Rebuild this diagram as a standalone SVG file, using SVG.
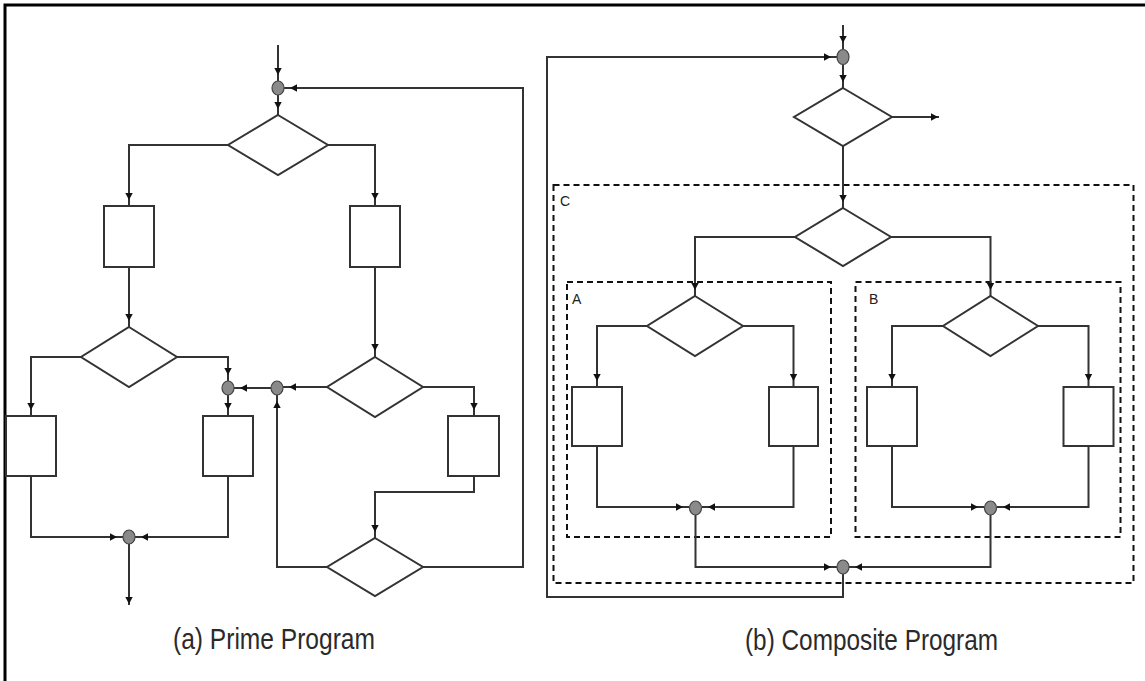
<svg xmlns="http://www.w3.org/2000/svg" width="1145" height="681" viewBox="0 0 1145 681">
  <style>
    .ln{fill:none;stroke:#333;stroke-width:2;stroke-linejoin:miter}
    .dia{fill:none;stroke:#333;stroke-width:2}
    .box{fill:none;stroke:#333;stroke-width:2}
    .jn{fill:#8a8a8a;stroke:#444;stroke-width:1.2}
    .grp{fill:none;stroke:#111;stroke-width:2;stroke-dasharray:6 4}
    .glab{font-family:"Liberation Sans",Arial,sans-serif;font-size:14px;fill:#222}
    .title{font-family:"Liberation Sans Narrow","Liberation Sans",Arial,sans-serif;font-size:29px;fill:#2a2a2a}
  </style>
  <defs>
    <marker id="ah" viewBox="0 0 8 8" markerWidth="8" markerHeight="8" refX="13" refY="4" orient="auto" markerUnits="userSpaceOnUse" overflow="visible">
      <path d="M0,0.3 L7,4 L0,7.7 z" fill="#111"/>
    </marker>
    <marker id="ahe" viewBox="0 0 8 8" markerWidth="8" markerHeight="8" refX="8" refY="4" orient="auto" markerUnits="userSpaceOnUse" overflow="visible">
      <path d="M0,0.3 L7,4 L0,7.7 z" fill="#111"/>
    </marker>
  </defs>
  <rect x="0" y="0" width="1145" height="681" fill="#fff"/>
  <rect id="frame" x="5" y="5" width="1200" height="700" fill="none" stroke="#000" stroke-width="3"/>

  <!-- group boxes (b) -->
  <g id="groupC"><rect class="grp" x="553.5" y="185" width="580" height="398"/><text class="glab" x="560" y="206">C</text></g>
  <g id="groupA"><rect class="grp" x="567" y="282" width="264" height="255"/><text class="glab" x="572" y="304">A</text></g>
  <g id="groupB"><rect class="grp" x="855.5" y="282" width="265" height="255"/><text class="glab" x="869" y="304">B</text></g>

  <g id="connectors">
    <!-- (a) -->
    <path class="ln" d="M278,45 V81" marker-end="url(#ah)"/>
    <path class="ln" d="M278,95 V115" marker-end="url(#ah)"/>
    <path class="ln" d="M228,145 H129 V206" marker-end="url(#ah)"/>
    <path class="ln" d="M328,145 H375 V206" marker-end="url(#ah)"/>
    <path class="ln" d="M129,267 V327" marker-end="url(#ah)"/>
    <path class="ln" d="M375,267 V357" marker-end="url(#ah)"/>
    <path class="ln" d="M81,357 H31 V416" marker-end="url(#ah)"/>
    <path class="ln" d="M177,357 H228 V381" marker-end="url(#ah)"/>
    <path class="ln" d="M228,395 V416" marker-end="url(#ah)"/>
    <path class="ln" d="M327,387 H283" marker-end="url(#ah)"/>
    <path class="ln" d="M271,388 H234" marker-end="url(#ah)"/>
    <path class="ln" d="M423,387 H474 V416" marker-end="url(#ah)"/>
    <path class="ln" d="M474,476 V492 H375 V538" marker-end="url(#ah)"/>
    <path class="ln" d="M327,567 H277 V395" marker-end="url(#ah)"/>
    <path class="ln" d="M423,567 H523 V88 H284" marker-end="url(#ah)"/>
    <path class="ln" d="M31,476 V537 H123" marker-end="url(#ah)"/>
    <path class="ln" d="M228,476 V537 H135" marker-end="url(#ah)"/>
    <path class="ln" d="M129,544 V605" marker-end="url(#ahe)"/>
    <!-- (b) -->
    <path class="ln" d="M843,25 V49" marker-end="url(#ah)"/>
    <path class="ln" d="M843,64.5 V88" marker-end="url(#ah)"/>
    <path class="ln" d="M892,117 H939" marker-end="url(#ahe)"/>
    <path class="ln" d="M843,146 V208" marker-end="url(#ah)"/>
    <path class="ln" d="M795,237 H695 V296" marker-end="url(#ah)"/>
    <path class="ln" d="M891,237 H990.5 V296" marker-end="url(#ah)"/>
    <path class="ln" d="M647,326 H597 V387" marker-end="url(#ah)"/>
    <path class="ln" d="M743,326 H793.5 V387" marker-end="url(#ah)"/>
    <path class="ln" d="M597,446 V507 H689" marker-end="url(#ah)"/>
    <path class="ln" d="M793.5,446 V507 H702" marker-end="url(#ah)"/>
    <path class="ln" d="M943,326 H892 V387" marker-end="url(#ah)"/>
    <path class="ln" d="M1038,326 H1088.5 V387" marker-end="url(#ah)"/>
    <path class="ln" d="M892,446 V507 H984" marker-end="url(#ah)"/>
    <path class="ln" d="M1088.5,446 V507 H997" marker-end="url(#ah)"/>
    <path class="ln" d="M695.5,515 V567 H837" marker-end="url(#ah)"/>
    <path class="ln" d="M990.5,515 V567 H849" marker-end="url(#ah)"/>
    <path class="ln" d="M843,574 V597 H547 V57 H837" marker-end="url(#ah)"/>
  </g>

  <!-- (a) Prime Program nodes -->
  <g id="a-j1"><ellipse class="jn" cx="278" cy="88" rx="6" ry="7"/></g>
  <g id="a-d1"><polygon class="dia" points="278,115 328,145 278,175 228,145"/></g>
  <g id="a-b1"><rect class="box" x="104" y="206" width="50" height="61"/></g>
  <g id="a-b2"><rect class="box" x="350" y="206" width="50" height="61"/></g>
  <g id="a-d2"><polygon class="dia" points="129,327 177,357 129,387 81,357"/></g>
  <g id="a-d3"><polygon class="dia" points="375,357 423,387 375,417 327,387"/></g>
  <g id="a-b3"><rect class="box" x="6" y="416" width="50" height="60"/></g>
  <g id="a-j2"><ellipse class="jn" cx="228" cy="388" rx="6" ry="7"/></g>
  <g id="a-b4"><rect class="box" x="203" y="416" width="50" height="60"/></g>
  <g id="a-j3"><ellipse class="jn" cx="277" cy="388" rx="6" ry="7"/></g>
  <g id="a-b5"><rect class="box" x="448" y="416" width="51" height="60"/></g>
  <g id="a-d4"><polygon class="dia" points="375,538 423,567 375,596 327,567"/></g>
  <g id="a-j4"><ellipse class="jn" cx="129" cy="537" rx="6" ry="7"/></g>
  <g id="a-title"><text class="title" x="274" y="649" text-anchor="middle" textLength="202" lengthAdjust="spacingAndGlyphs">(a) Prime Program</text></g>

  <!-- (b) Composite Program nodes -->
  <g id="b-j1"><ellipse class="jn" cx="843" cy="57" rx="6" ry="7.5"/></g>
  <g id="b-d1"><polygon class="dia" points="843,88 892,117 843,146 794,117"/></g>
  <g id="b-d2"><polygon class="dia" points="843,208 891,237 843,266 795,237"/></g>
  <g id="b-da"><polygon class="dia" points="695,296 743,326 695,356 647,326"/></g>
  <g id="b-al"><rect class="box" x="572" y="387" width="50" height="59"/></g>
  <g id="b-ar"><rect class="box" x="769" y="387" width="49" height="59"/></g>
  <g id="b-ja"><ellipse class="jn" cx="695.5" cy="508" rx="6" ry="7"/></g>
  <g id="b-db"><polygon class="dia" points="990.5,296 1038,326 990.5,356 943,326"/></g>
  <g id="b-bl"><rect class="box" x="867" y="387" width="50" height="59"/></g>
  <g id="b-br"><rect class="box" x="1063.5" y="387" width="50" height="59"/></g>
  <g id="b-jb"><ellipse class="jn" cx="990.5" cy="508" rx="6" ry="7"/></g>
  <g id="b-jc"><ellipse class="jn" cx="843" cy="567" rx="6" ry="7"/></g>
  <g id="b-title"><text class="title" x="871.5" y="650" text-anchor="middle" textLength="253" lengthAdjust="spacingAndGlyphs">(b) Composite Program</text></g>
</svg>
